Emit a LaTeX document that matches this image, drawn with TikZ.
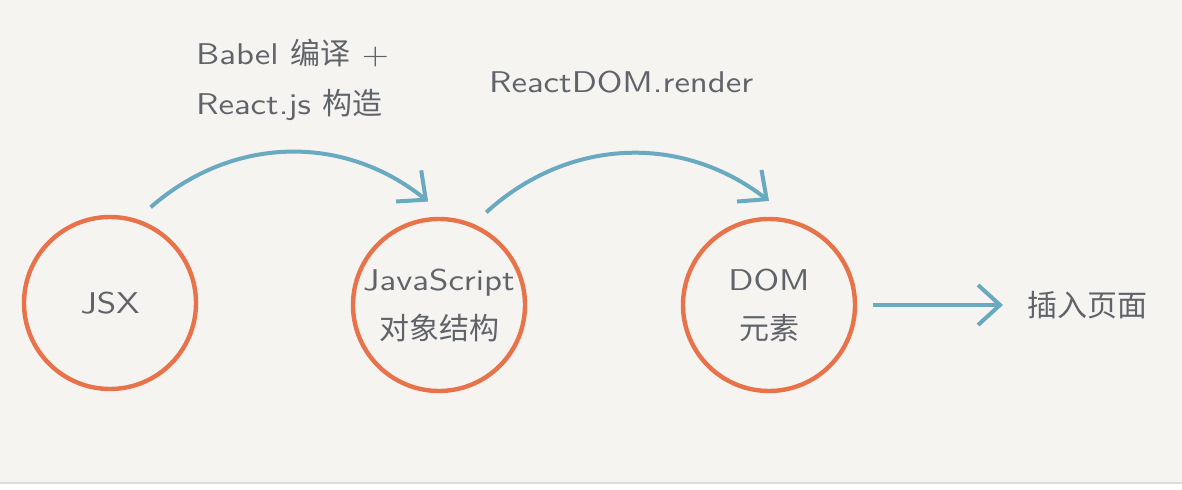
\documentclass[tikz,border=0pt]{standalone}
\usepackage{fontspec}
\newfontfamily\cjk{Noto Sans CJK SC}
\newfontfamily\latin{lmsans10-regular.otf}[FakeStretch=1.16]
\usetikzlibrary{arrows.meta}
\definecolor{bgpaper}{RGB}{245,244,241}
\definecolor{myorange}{RGB}{232,115,74}
\definecolor{myblue}{RGB}{106,170,192}
\definecolor{mygray}{RGB}{96,100,106}
\definecolor{edgegray}{RGB}{220,220,220}

\begin{document}
\begin{tikzpicture}[x=0.5pt,y=0.5pt,
    stage/.style={circle,draw=myorange,line width=2.2pt,minimum size=86pt,
      inner sep=0pt,outer sep=9pt,align=center,text=mygray,
      font=\latin\fontsize{15}{24.5}\selectfont},
    flow/.style={myblue,line width=2pt,
      -{Straight Barb[length=11pt,width=20pt,line width=2pt]}},
    note/.style={text=mygray,align=left,font=\latin\fontsize{15}{25}\selectfont}]
    % Tło
    \useasboundingbox (0,0) rectangle (1182,-490);
    \fill[bgpaper] (0,0) rectangle (1182,-490);
    \fill[white] (0,-484) rectangle (1182,-490);
    \draw[edgegray,line width=1pt] (0,-483) -- (1182,-483);

    % Etapy
    \node[stage] (jsx) at (110,-303) {JSX};
    \node[stage] (js) at (439,-305) {JavaScript\\{\cjk 对象结构}};
    \node[stage] (dom) at (769,-305) {DOM\\{\cjk 元素}};

    % Podpisy
    \node[note,anchor=west] (babel) at (189,-80)
      {Babel {\cjk 编译} +\\React.js {\cjk 构造}};
    \node[note,anchor=west] (render) at (482,-82) {ReactDOM.render};
    \node[note,anchor=west,inner sep=0pt,outer sep=12pt] (page) at (1003,-305)
      {\cjk 插入页面};

    % Strzałki
    \draw[flow] (jsx.67) to[bend left=40] (js.96);
    \draw[flow] (js.63) to[bend left=40] (dom.90);
    \draw[flow] (dom.east) -- (page.west);
\end{tikzpicture}
\end{document}
